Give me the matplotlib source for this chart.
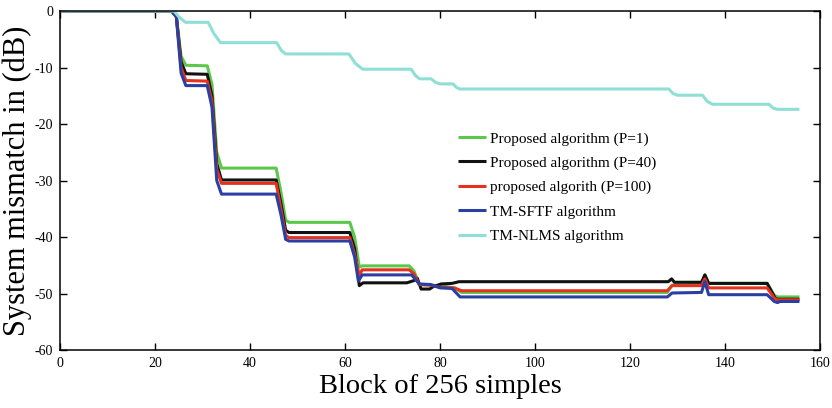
import matplotlib
matplotlib.use("Agg")
import matplotlib.pyplot as plt

# ------------------------------------------------------------
# Data: convergence curves (block index, mismatch in dB)
# ------------------------------------------------------------
p1_x = [0, 23.5, 24.5, 25.5, 26.5, 31, 32, 33, 34, 45.5, 46.5, 47.5, 48.2, 61, 62, 63, 63.6,
        73.5, 74.5, 75.6, 80, 83, 84.5, 127.8, 128.8, 135, 135.7, 136.5, 148.8, 150.3, 151, 155.6]
p1_y = [0, 0, -1, -8, -9.6, -9.7, -13, -25, -27.8, -27.8, -32, -37, -37.4, -37.4, -40, -45.3, -45.1,
        -45.1, -46, -48.4, -48.6, -49, -49.8, -49.8, -48.5, -48.4, -46.7, -48.2, -48.2, -50.3, -50.6, -50.6]

p40_x = [0, 23.5, 24.5, 25.5, 26.5, 31, 32, 33, 34, 45.5, 46.5, 47.5, 48.2, 61, 62, 63, 63.8,
         73, 74.5, 75.2, 76, 77.8, 78.5, 80.2, 82.5, 84, 128, 128.7, 129.3, 135, 135.7, 136.5,
         148.8, 150.5, 151, 155.6]
p40_y = [0, 0, -1, -9, -11.1, -11.2, -15, -27, -29.9, -29.9, -34, -38.8, -39.2, -39.2, -42, -48.6, -48.1,
         -48.1, -47.7, -47.3, -49.2, -49.2, -48.8, -48.3, -48.2, -47.9, -47.9, -47.4, -48.0, -48.0, -46.7, -48.2,
         -48.2, -50.8, -51.0, -51.0]

p100_x = [0, 23.5, 24.5, 25.5, 26.5, 31, 32, 33, 34, 45.5, 46.5, 47.5, 48.2, 61, 62, 63, 63.6,
          73.5, 74.5, 75.6, 78, 80, 83, 84.5, 127.8, 128.8, 135, 135.7, 136.5, 148.8, 150.3, 151, 155.6]
p100_y = [0, 0, -1, -10, -12.3, -12.4, -16, -28, -30.5, -30.5, -35, -39.7, -40.1, -40.1, -43, -46.8, -45.8,
          -45.8, -46.5, -48.4, -48.5, -48.9, -49.0, -49.5, -49.5, -48.6, -48.6, -47.4, -49.0, -49.0, -50.8, -51.1, -51.1]

sftf_x = [0, 23.5, 24.5, 25.5, 26.5, 31, 32, 33, 34, 45.5, 46.5, 47.5, 48.2, 61, 62, 62.8, 63.6,
          74, 75.6, 78, 80, 82.5, 84.2, 127.8, 128.8, 135, 135.7, 136.5, 148.8, 150.3, 151, 151.5, 155.6]
sftf_y = [0, 0, -1, -11, -13.2, -13.2, -17, -30, -32.4, -32.4, -36, -40.4, -40.7, -40.7, -43.5, -47.8, -46.7,
          -46.7, -48.3, -48.4, -49.0, -49.1, -50.6, -50.6, -49.9, -49.8, -47.9, -50.2, -50.2, -51.4, -51.6, -51.4, -51.4]

nlms_x = [0, 24, 25, 26.4, 31.2, 32.4, 33.8, 45.6, 46.6, 47.5, 60.8, 62.2, 63.7, 73.9, 74.8, 75.7,
          78.1, 79, 79.9, 82.7, 83.4, 84.1, 128.1, 129, 129.9, 135.2, 136.2, 137.3, 149.2, 150.1, 151, 155.6]
nlms_y = [0, 0, -1, -2.0, -2.0, -4, -5.6, -5.6, -7, -7.6, -7.6, -9.3, -10.3, -10.3, -11.4, -12.0,
          -12.0, -12.6, -12.9, -12.9, -13.5, -13.8, -13.8, -14.6, -14.9, -14.9, -16.0, -16.5, -16.5, -17.2, -17.4, -17.4]

labels = ["Proposed algorithm (P=1)", "Proposed algorithm (P=40)", "proposed algorith (P=100)",
          "TM-SFTF algorithm", "TM-NLMS algorithm"]
colors = ["#5cc84b", "#111111", "#e5321f", "#2b3fa3", "#8fdfd6"]

plt.rcParams["font.family"] = ["Liberation Serif", "DejaVu Serif"]
plt.rcParams["axes.unicode_minus"] = False

fig = plt.figure(figsize=(8.32, 4.08), dpi=100)
ax = fig.add_axes([0.072, 0.142, 0.914, 0.831])

series = [(p1_x, p1_y), (p40_x, p40_y), (p100_x, p100_y), (sftf_x, sftf_y), (nlms_x, nlms_y)]
for (xs, ys), lab, col in zip(series, labels, colors):
    ax.plot(xs, ys, color=col, lw=2.2, label=lab, solid_joinstyle="round", solid_capstyle="butt")

ax.set_xlim(0, 160)
ax.set_ylim(-60, 0)
ax.set_xticks(range(0, 161, 20))
ax.set_yticks(range(-60, 1, 10))
ax.tick_params(direction="in", top=True, right=True, length=5, width=1, labelsize=10, pad=5)
for sp in ax.spines.values():
    sp.set_linewidth(1.1)

ax.set_xlabel("Block of 256 simples", fontsize=20.5, labelpad=3)
ax.set_ylabel("System mismatch in (dB)", fontsize=22, labelpad=2)

ax.legend(loc="upper left", bbox_to_anchor=(0.516, 0.662), frameon=False, fontsize=11,
          handlelength=1.8, handletextpad=0.3, labelspacing=0.69, borderaxespad=0)

fig.savefig("out.png", dpi=100)
